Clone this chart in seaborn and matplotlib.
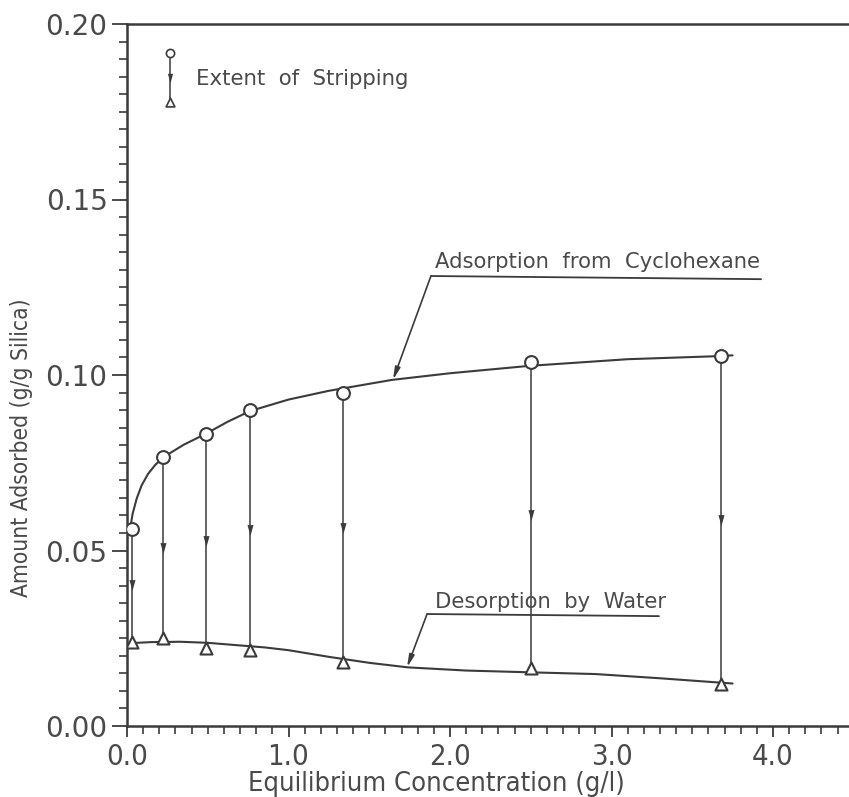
import numpy as np
import pandas as pd
import matplotlib
matplotlib.use("Agg")
import matplotlib.pyplot as plt
import seaborn as sns
from matplotlib.ticker import MultipleLocator, FormatStrFormatter
from matplotlib.path import Path
from matplotlib import font_manager

# Equilibrium concentration (g/l) of each experiment
conc = [0.03, 0.22, 0.49, 0.76, 1.34, 2.50, 3.68]
# Amount adsorbed from cyclohexane (g/g silica)
adsorbed_cyclohexane = [0.0562, 0.0767, 0.0832, 0.0899, 0.0948, 0.1037, 0.1055]
# Amount left on the silica after desorption by water (g/g silica)
remaining_after_water = [0.0240, 0.0250, 0.0221, 0.0217, 0.0183, 0.0164, 0.0119]

# Smoothed isotherm curves
ads_curve_x = [0.015, 0.035, 0.06, 0.09, 0.13, 0.175, 0.229, 0.35, 0.49, 0.62,
               0.76, 1.0, 1.25, 1.64, 2.0, 2.49, 3.1, 3.68, 3.75]
ads_curve_y = [0.0550, 0.0605, 0.0648, 0.0685, 0.0718, 0.0744, 0.0767, 0.0801,
               0.0833, 0.0866, 0.0897, 0.0930, 0.0955, 0.0986, 0.1005, 0.1026,
               0.1045, 0.1054, 0.1056]
des_curve_x = [0.02, 0.15, 0.33, 0.5, 0.66, 0.85, 1.0, 1.25, 1.5, 1.74, 2.1,
               2.49, 2.9, 3.3, 3.69, 3.75]
des_curve_y = [0.0236, 0.0239, 0.0240, 0.0237, 0.0231, 0.0224, 0.0216, 0.0197,
               0.0180, 0.0167, 0.0158, 0.0153, 0.0148, 0.0136, 0.0123, 0.0121]

x_ticks = [0.0, 1.0, 2.0, 3.0, 4.0]
y_ticks = [0.00, 0.05, 0.10, 0.15, 0.20]

INK = "#3b3b3b"
TEXT = "#4a4a4a"

sns.set_theme(style="white")
plt.rcParams["font.family"] = ["DejaVu Sans"]

# narrow lettering for the axis titles and x tick labels
cond_file = font_manager.findfont(font_manager.FontProperties(family="DejaVu Sans", stretch="condensed"))
has_condensed = "condensed" in cond_file.lower()
narrow = dict(family="DejaVu Sans", stretch="condensed")
k = 1.0 if has_condensed else 0.82

W, H = 849, 797
fig = plt.figure(figsize=(W / 100, H / 100), dpi=100)
ax_left, ax_bottom, ax_top = 127, 726, 24
ax = fig.add_axes([ax_left / W, 1 - ax_bottom / H, 1 - ax_left / W, (ax_bottom - ax_top) / H])

pts = pd.DataFrame({"conc": conc, "ads": adsorbed_cyclohexane, "des": remaining_after_water})
ads_df = pd.DataFrame({"x": ads_curve_x, "y": ads_curve_y})
des_df = pd.DataFrame({"x": des_curve_x, "y": des_curve_y})

# isotherm curves
sns.lineplot(data=ads_df, x="x", y="y", ax=ax, color=INK, lw=1.5, sort=False, zorder=3)
sns.lineplot(data=des_df, x="x", y="y", ax=ax, color=INK, lw=1.5, sort=False, zorder=3)

# stripping lines from adsorbed to remaining amount
ax.vlines(pts["conc"], pts["des"], pts["ads"], color=INK, lw=1.1, zorder=2)
down_head = Path([(-0.28, 0.5), (0.28, 0.5), (0.0, -0.5), (-0.28, 0.5)],
                 [Path.MOVETO, Path.LINETO, Path.LINETO, Path.CLOSEPOLY])
mid = (pts["ads"] + pts["des"]) / 2
ax.scatter(pts["conc"], mid, marker=down_head, s=60, color=INK, linewidths=0, zorder=4)

# measured points
sns.scatterplot(data=pts, x="conc", y="ads", ax=ax, marker="o", s=85,
                facecolor="white", edgecolor=INK, linewidth=1.5, zorder=5)
sns.scatterplot(data=pts, x="conc", y="des", ax=ax, marker="^", s=75,
                facecolor="white", edgecolor=INK, linewidth=1.5, zorder=5)

# key for the stripping symbol
kx, ky_top, ky_bot = 0.266, 0.1917, 0.1778
ax.plot([kx, kx], [ky_bot, ky_top], color=INK, lw=1.1, zorder=2)
ax.scatter([kx], [ky_top], marker="o", s=35, facecolor="white", edgecolor=INK, linewidth=1.2, zorder=5)
ax.scatter([kx], [ky_bot], marker="^", s=40, facecolor="white", edgecolor=INK, linewidth=1.2, zorder=5)
ax.scatter([kx], [(ky_top + ky_bot) / 2], marker=down_head, s=45, color=INK, linewidths=0, zorder=4)
ax.text(0.427, 0.1843, "Extent  of  Stripping", fontsize=15.3, color=TEXT, va="center", ha="left")

# curve labels with leader lines
def curve_label(text, tx, ty, line_x0, line_x1, line_y0, line_y1, target_x, cx, cy):
    target_y = float(np.interp(target_x, cx, cy))
    ax.text(tx, ty, text, fontsize=15.2, color=TEXT, ha="left", va="baseline")
    ax.plot([line_x0, line_x1], [line_y0, line_y1], color=INK, lw=1.3)
    ax.annotate("", xy=(target_x, target_y), xytext=(line_x0, line_y0),
                arrowprops=dict(arrowstyle="-|>,head_length=0.6,head_width=0.13",
                                color=INK, lw=1.2, shrinkA=0, shrinkB=0))

curve_label("Adsorption  from  Cyclohexane", 1.907, 0.1305, 1.882, 3.926, 0.1282, 0.1273,
            1.647, ads_curve_x, ads_curve_y)
curve_label("Desorption  by  Water", 1.907, 0.0337, 1.858, 3.294, 0.0319, 0.0313,
            1.734, des_curve_x, des_curve_y)

# axes
ax.set_xlim(0, (W - ax_left) / 161.5)
ax.set_ylim(0, 0.20)
ax.set_xticks(x_ticks)
ax.set_yticks(y_ticks)
ax.xaxis.set_minor_locator(MultipleLocator(0.1))
ax.yaxis.set_minor_locator(MultipleLocator(0.005))
ax.xaxis.set_major_formatter(FormatStrFormatter("%.1f"))
ax.yaxis.set_major_formatter(FormatStrFormatter("%.2f"))
ax.set_xlabel("")
ax.set_ylabel("")

for side in ["left", "bottom", "top"]:
    ax.spines[side].set_visible(True)
    ax.spines[side].set_color(INK)
    ax.spines[side].set_linewidth(1.8)
ax.spines["right"].set_visible(False)

ax.tick_params(axis="y", which="major", direction="out", length=11, width=1.3, color=INK,
               pad=3, labelsize=20, labelcolor=TEXT, left=True)
ax.tick_params(axis="y", which="minor", direction="out", length=6, width=1.2, color=INK, left=True)
ax.tick_params(axis="x", which="major", direction="out", length=8, width=1.3, color=INK,
               pad=4, labelsize=21 * k, labelcolor=TEXT, bottom=True)
ax.tick_params(axis="x", which="minor", direction="out", length=6, width=1.2, color=INK, bottom=True)
for lab in ax.get_xticklabels():
    lab.set_fontstretch("condensed")

fig.text(436 / W, 1 - 784 / H, "Equilibrium Concentration (g/l)", fontsize=19.5 * k, color=TEXT,
         ha="center", va="center", **narrow)
fig.text(22 / W, 1 - 448 / H, "Amount Adsorbed (g/g Silica)", fontsize=16.3 * k, color=TEXT,
         ha="center", va="center", rotation=90, **narrow)

fig.savefig("out.png", dpi=100, facecolor="white")
